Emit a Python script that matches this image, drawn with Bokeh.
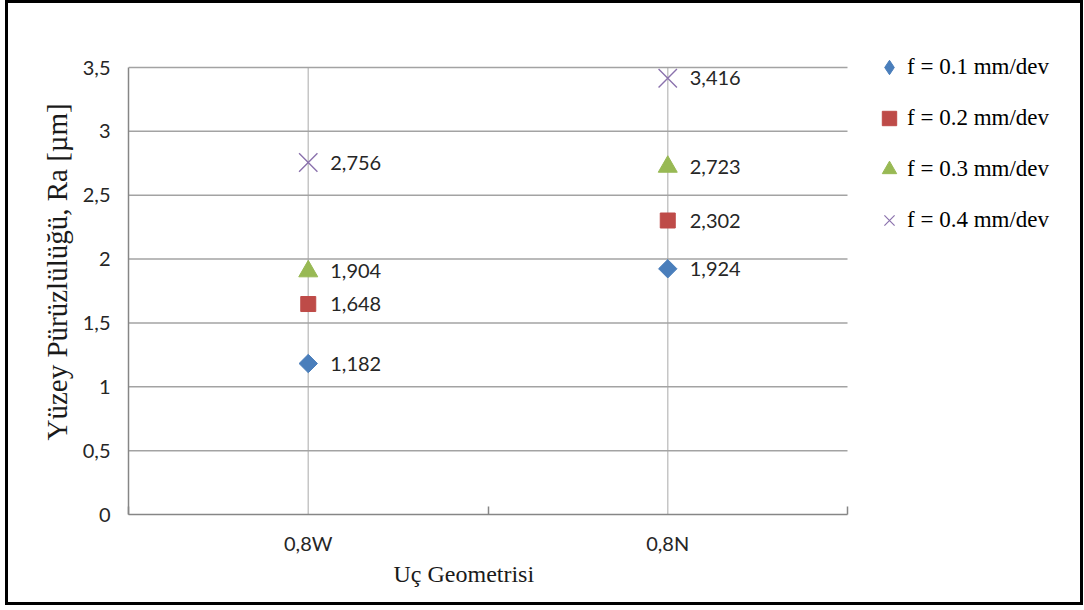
import math
from bokeh.plotting import figure
from bokeh.models import (ColumnDataSource, FixedTicker, Range1d, Legend,
                          LegendItem, Title)
from bokeh.core.properties import value
from bokeh.embed import file_html
from bokeh.resources import INLINE

# Insert geometries (x categories) and feed-rate series (surface roughness Ra, µm)
categories = ["0,8W", "0,8N"]
series_names = ["f = 0.1 mm/dev", "f = 0.2 mm/dev", "f = 0.3 mm/dev", "f = 0.4 mm/dev"]
ra_f01 = [1.182, 1.924]
ra_f02 = [1.648, 2.302]
ra_f03 = [1.904, 2.723]
ra_f04 = [2.756, 3.416]
y_ticks = [0, 0.5, 1, 1.5, 2, 2.5, 3, 3.5]

series_values = [ra_f01, ra_f02, ra_f03, ra_f04]
series_colors = ["#4a7ebb", "#be4b48", "#98b954", "#8b72ad"]

W, H = 1078, 605
BORDER_L, BORDER_R, BORDER_T, BORDER_B = 120, 6, 10, 94
CAT_PX = 719                        # width of the category area in pixels
VAL_PX = 447                        # height of the 0..3.5 value area in pixels
FRAME_W = W - BORDER_L - BORDER_R   # the frame also hosts the legend
FRAME_H = H - BORDER_T - BORDER_B
n_cat = len(categories)
y_max = y_ticks[-1]
x_end = n_cat * FRAME_W / CAT_PX
y_end = y_max * FRAME_H / VAL_PX

p = figure(width=W, height=H, output_backend="svg", toolbar_location=None,
           x_range=Range1d(0, x_end), y_range=Range1d(0, y_end),
           min_border_left=BORDER_L, min_border_right=BORDER_R,
           min_border_top=BORDER_T, min_border_bottom=BORDER_B)
p.styles = {"border": "3px solid black", "margin-left": "5px"}
p.outline_line_color = None
p.background_fill_color = "white"
p.border_fill_color = "white"

LABEL_FONT = value("Lato")

# y axis
p.yaxis.ticker = FixedTicker(ticks=y_ticks)
p.yaxis.bounds = (0, y_max)
p.yaxis.major_label_overrides = {t: ("%g" % t).replace(".", ",") for t in y_ticks}
p.yaxis.axis_line_color = "#868686"
p.yaxis.axis_line_width = 1.5
p.yaxis.major_tick_line_color = None
p.yaxis.minor_tick_line_color = None
p.yaxis.major_label_text_font = "Lato"
p.yaxis.major_label_text_font_size = "20px"
p.yaxis.major_label_text_color = "#262626"
p.yaxis.major_label_standoff = 12

# x axis: labels at category centres, small ticks at category boundaries
centers = [i + 0.5 for i in range(n_cat)]
bounds = list(range(n_cat + 1))
p.xaxis.ticker = FixedTicker(ticks=centers, minor_ticks=bounds)
p.xaxis.bounds = (0, n_cat)
p.xaxis.major_label_overrides = {c: name for c, name in zip(centers, categories)}
p.xaxis.axis_line_color = "#868686"
p.xaxis.axis_line_width = 1.5
p.xaxis.major_tick_line_color = None
p.xaxis.minor_tick_in = 8
p.xaxis.minor_tick_out = 0
p.xaxis.minor_tick_line_color = "#868686"
p.xaxis.minor_tick_line_width = 1.5
p.xaxis.major_label_text_font = "Lato"
p.xaxis.major_label_text_font_size = "20px"
p.xaxis.major_label_text_color = "#262626"
p.xaxis.major_label_standoff = 10

# grid lines, limited to the category/value area
p.xgrid.grid_line_color = None
p.ygrid.grid_line_color = None
p.segment(x0=centers, x1=centers, y0=[0] * n_cat, y1=[y_max] * n_cat,
          line_color="#c6c6c6", line_width=1.5)
hy = y_ticks[1:]
p.segment(x0=[0] * len(hy), x1=[n_cat] * len(hy), y0=hy, y1=hy,
          line_color="#a3a3a3", line_width=1.5)

marker_specs = [
    dict(marker="square", angle=math.pi / 4, size=13, key="diamond"),
    dict(marker="square", angle=0, size=15, key="square"),
    dict(marker="triangle", angle=0, size=19, key="triangle"),
    dict(marker="x", angle=0, size=26, key="x"),
]

items = []
for name, vals, color, spec in zip(series_names, series_values, series_colors, marker_specs):
    src = ColumnDataSource(dict(
        x=centers, y=vals,
        txt=[("%.3f" % v).replace(".", ",") for v in vals],
    ))
    if spec["marker"] == "x":
        r = p.scatter("x", "y", source=src, marker="x", size=spec["size"],
                      line_color=color, line_width=1.4)
    else:
        r = p.scatter("x", "y", source=src, marker=spec["marker"], size=spec["size"],
                      angle=spec["angle"], fill_color=color, line_color=color)
    p.text("x", "y", text="txt", source=src, x_offset=22, text_font=LABEL_FONT,
           text_font_size="20px", text_color="#262626", text_baseline="middle",
           text_align="left")
    if spec["key"] == "diamond":
        # legend swatch: a diamond marker (the plotted one is a rotated square)
        r = p.scatter(x=[float("nan")], y=[float("nan")], marker="diamond",
                      fill_color=color, line_color=color)
    if spec["key"] == "x":
        r = p.scatter(x=[float("nan")], y=[float("nan")], marker="x",
                      line_color=color, line_width=1.2)
    items.append(LegendItem(label=name, renderers=[r]))

legend = Legend(items=items, location=(743, 276), orientation="vertical",
                glyph_width=36, glyph_height=36, spacing=15, padding=0, margin=0,
                label_standoff=0, label_text_font="Liberation Serif",
                label_text_font_size="23px", label_text_color="black",
                border_line_color=None, background_fill_alpha=0)
p.add_layout(legend)

# axis titles
p.add_layout(Title(text="Yüzey Pürüzlülüğü, Ra [µm]", align="left", offset=74,
                   text_font="Liberation Serif", text_font_size="29px",
                   text_font_style="normal", text_color="#1a1a1a", standoff=14),
             "left")
p.add_layout(Title(text="Uç Geometrisi", align="left", offset=265,
                   text_font="Liberation Serif", text_font_size="24px",
                   text_font_style="normal", text_color="#1a1a1a", standoff=2),
             "below")

open("out.html", "w").write(file_html(p, INLINE))
